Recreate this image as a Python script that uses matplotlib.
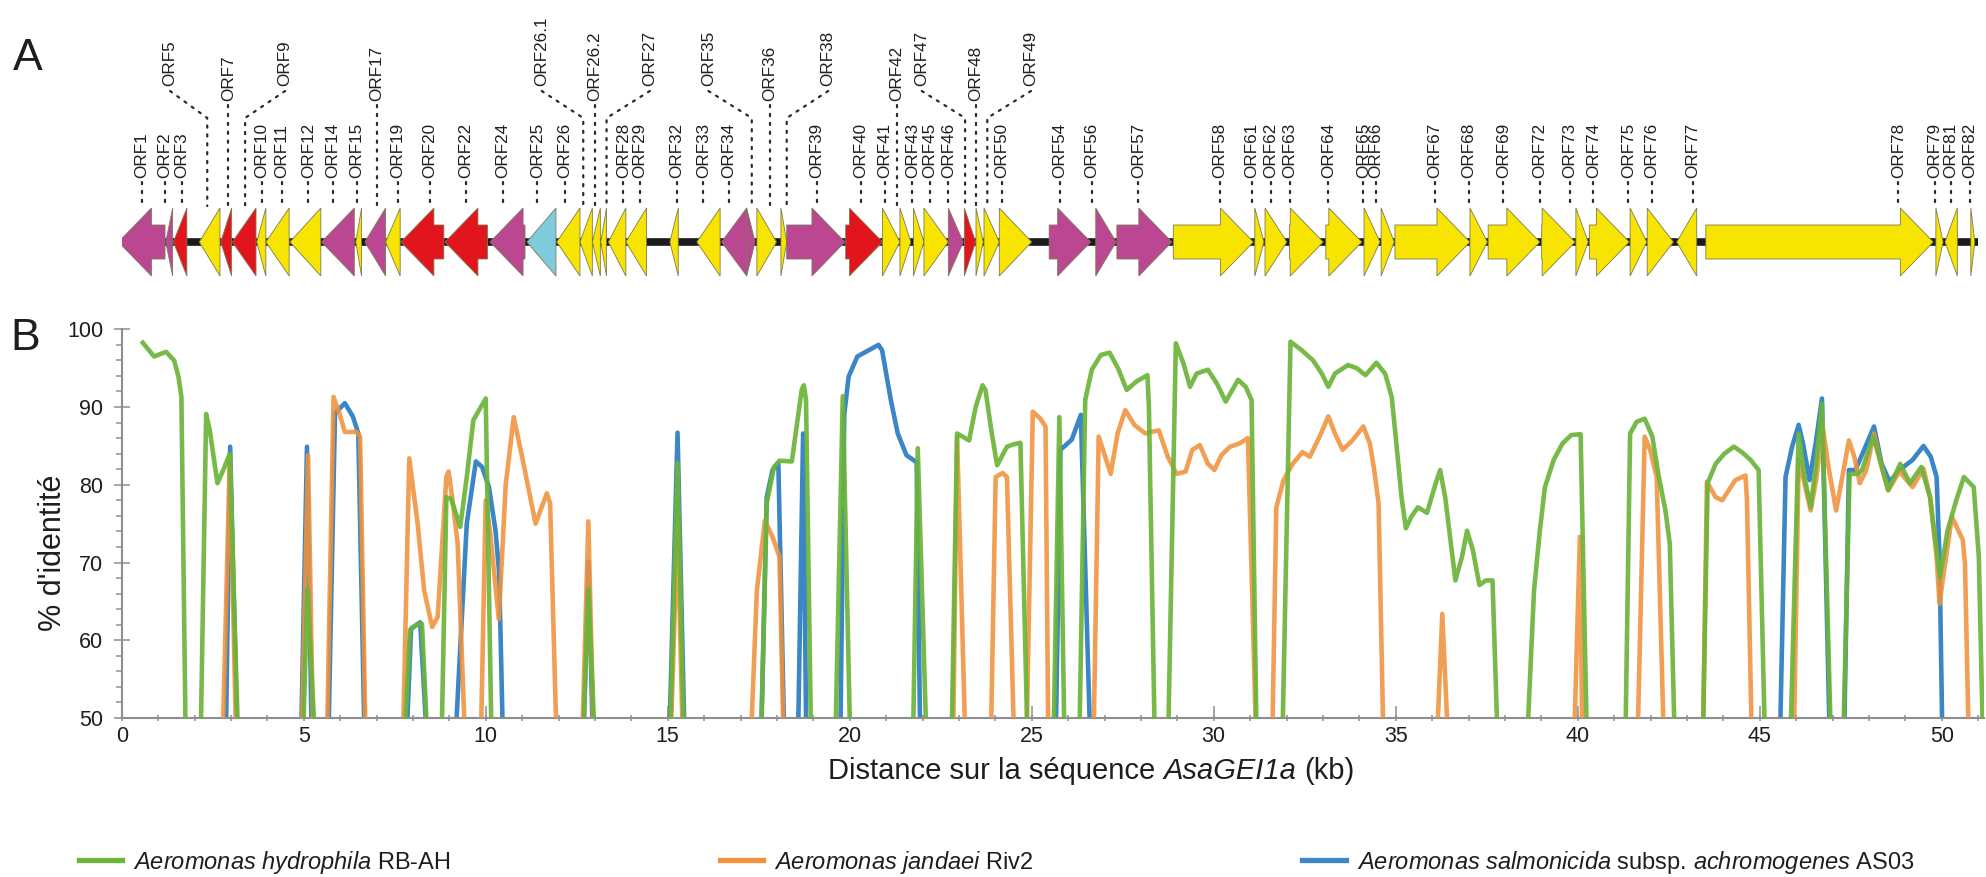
import numpy as np
import matplotlib
matplotlib.use("Agg")
import matplotlib.pyplot as plt
from matplotlib.patches import Polygon
from matplotlib.lines import Line2D

plt.rcParams['font.family'] = ['Liberation Sans', 'DejaVu Sans']
plt.rcParams['mathtext.fontset'] = 'custom'
plt.rcParams['mathtext.rm'] = 'Liberation Sans'
plt.rcParams['mathtext.it'] = 'Liberation Sans:italic'

# ---------------- DATA ----------------
# Gene map (kb): start, end, strand, colour class
gene_names = ["ORF1", "ORF2", "ORF3", "ORF5", "ORF7", "ORF9", "ORF10", "ORF11", "ORF12", "ORF14",
              "ORF15", "ORF17", "ORF19", "ORF20", "ORF22", "ORF24", "ORF25", "ORF26", "ORF26.1", "ORF26.2",
              "ORF27", "ORF28", "ORF29", "ORF32", "ORF33", "ORF34", "ORF35", "ORF36", "ORF38", "ORF39",
              "ORF40", "ORF41", "ORF42", "ORF43", "ORF45", "ORF46", "ORF47", "ORF48", "ORF49", "ORF50",
              "ORF54", "ORF56", "ORF57", "ORF58", "ORF61", "ORF62", "ORF63", "ORF64", "ORF65", "ORF66",
              "ORF67", "ORF68", "ORF69", "ORF72", "ORF73", "ORF74", "ORF75", "ORF76", "ORF77", "ORF78",
              "ORF79", "ORF81", "ORF82"]
gene_start = [-0.09, 1.21, 1.42, 2.13, 2.72, 3.04, 3.71, 3.96, 4.62, 5.49,
              6.43, 6.68, 7.25, 7.67, 8.88, 10.12, 11.13, 11.95, 12.59, 12.93,
              13.16, 13.37, 13.85, 15.06, 15.80, 16.48, 17.17, 17.45, 18.11, 18.27,
              19.89, 20.90, 21.38, 21.75, 22.04, 22.71, 23.15, 23.47, 23.69, 24.11,
              25.48, 26.76, 27.34, 28.89, 31.13, 31.41, 32.08, 33.08, 34.13, 34.60,
              34.98, 37.04, 37.54, 39.01, 39.95, 40.32, 41.44, 41.91, 42.72, 43.52,
              49.84, 50.09, 50.80]
gene_end = [1.19, 1.40, 1.79, 2.70, 3.02, 3.69, 3.96, 4.60, 5.47, 6.39,
            6.59, 7.25, 7.65, 8.85, 10.05, 11.08, 11.93, 12.59, 12.93, 13.15,
            13.32, 13.85, 14.42, 15.29, 16.44, 17.17, 17.40, 17.99, 18.27, 19.87,
            20.90, 21.38, 21.68, 22.04, 22.71, 23.12, 23.46, 23.67, 24.11, 25.00,
            26.62, 27.32, 28.85, 31.09, 31.38, 32.01, 33.01, 34.07, 34.57, 34.96,
            37.04, 37.52, 38.96, 39.93, 40.29, 41.42, 41.90, 42.63, 43.27, 49.77,
            50.04, 50.43, 50.91]
gene_strand = [-1] * 26 + [1] * 32 + [-1, 1, 1, -1, 1]
gene_class = ["m", "m", "r", "y", "r", "r", "y", "y", "y", "m",
              "y", "m", "y", "r", "r", "m", "c", "y", "y", "y",
              "y", "y", "y", "y", "y", "m", "m", "y", "y", "m",
              "r", "y", "y", "y", "y", "m", "r", "y", "y", "y",
              "m", "m", "m", "y", "y", "y", "y", "y", "y", "y",
              "y", "y", "y", "y", "y", "y", "y", "y", "y", "y",
              "y", "y", "y"]
backbone_kb = [-0.10, 51.0]

# Labels on the lower row (leader position, kb)
row1_names = ["ORF1", "ORF2", "ORF3", "ORF10", "ORF11", "ORF12", "ORF14", "ORF15", "ORF19", "ORF20",
              "ORF22", "ORF24", "ORF25", "ORF26", "ORF28", "ORF29", "ORF32", "ORF33", "ORF34", "ORF39",
              "ORF40", "ORF41", "ORF43", "ORF45", "ORF46", "ORF50", "ORF54", "ORF56", "ORF57", "ORF58",
              "ORF61", "ORF62", "ORF63", "ORF64", "ORF65", "ORF66", "ORF67", "ORF68", "ORF69", "ORF72",
              "ORF73", "ORF74", "ORF75", "ORF76", "ORF77", "ORF78", "ORF79", "ORF81", "ORF82"]
row1_pos = [0.55, 1.19, 1.65, 3.86, 4.40, 5.13, 5.81, 6.46, 7.58, 8.47,
            9.46, 10.48, 11.42, 12.18, 13.78, 14.24, 15.25, 15.98, 16.68, 19.09,
            20.31, 20.97, 21.72, 22.21, 22.71, 24.18, 25.78, 26.66, 27.93, 30.17,
            31.04, 31.57, 32.10, 33.15, 34.11, 34.46, 36.08, 37.02, 37.96, 38.96,
            39.79, 40.43, 41.39, 42.03, 43.16, 48.81, 49.82, 50.25, 50.78]
# Labels on the upper row: leader position and text position (kb)
row2_names = ["ORF5", "ORF7", "ORF9", "ORF17", "ORF26.1", "ORF26.2", "ORF27", "ORF35", "ORF36", "ORF38",
              "ORF42", "ORF47", "ORF48", "ORF49"]
row2_pos = [2.35, 2.93, 3.39, 7.01, 12.68, 13.00, 13.32, 17.31, 17.81, 18.27,
            21.29, 23.17, 23.47, 23.78]
row2_text = [1.33, 2.93, 4.49, 7.01, 11.54, 13.00, 14.51, 16.12, 17.81, 19.41,
             21.29, 21.98, 23.47, 24.98]

# Identity curves: segments of (kb, % identity)
green_segments = [
    [(0.54, 98.5), (0.89, 96.5), (1.22, 97.1), (1.44, 96.0), (1.56, 93.9), (1.64, 91.3), (1.75, 50)],
    [(2.18, 50), (2.32, 89.1), (2.42, 87.0), (2.63, 80.2), (2.79, 81.9), (2.97, 84.0), (3.18, 50)],
    [(5.0, 50), (5.1, 66.5), (5.28, 50)],
    [(7.8, 50), (7.92, 61.3), (8.13, 62.1), (8.25, 62.1), (8.37, 50)],
    [(8.8, 50), (8.92, 78.4), (9.05, 78.2), (9.3, 74.6), (9.48, 81.0), (9.66, 88.3), (10.0, 91.1), (10.15, 50)],
    [(12.7, 50), (12.82, 66.6), (12.97, 50)],
    [(15.08, 50), (15.27, 82.8), (15.43, 50)],
    [(17.58, 50), (17.72, 77.6), (17.92, 82.3), (18.07, 83.1), (18.41, 83.0), (18.68, 92.2), (18.74, 92.8),
     (18.8, 90.9), (18.93, 50)],
    [(19.62, 50), (19.81, 91.4), (20.0, 50)],
    [(21.75, 50), (21.87, 84.7), (22.09, 50)],
    [(22.81, 50), (22.95, 86.6), (23.1, 86.2), (23.28, 85.7), (23.46, 90.0), (23.65, 92.8), (23.73, 92.2),
     (23.89, 87.0), (24.05, 82.5), (24.32, 84.9), (24.5, 85.2), (24.69, 85.4), (24.87, 50)],
    [(25.61, 50), (25.76, 88.7), (25.89, 50)],
    [(26.32, 50), (26.47, 90.9), (26.65, 94.8), (26.9, 96.7), (27.14, 97.0), (27.39, 94.8), (27.61, 92.2),
     (27.88, 93.3), (28.18, 94.1), (28.22, 90.0), (28.37, 50)],
    [(28.76, 50), (28.96, 98.2), (29.17, 95.6), (29.35, 92.6), (29.53, 94.3), (29.84, 94.8), (30.09, 93.0),
     (30.33, 90.7), (30.67, 93.5), (30.88, 92.6), (31.04, 90.9), (31.17, 50)],
    [(31.9, 50), (32.11, 98.4), (32.42, 97.3), (32.73, 96.0), (32.97, 94.3), (33.15, 92.6), (33.33, 94.3),
     (33.69, 95.4), (33.93, 95.0), (34.17, 94.1), (34.47, 95.7), (34.71, 94.3), (34.89, 91.3), (35.01, 85.7),
     (35.16, 78.4), (35.28, 74.4), (35.43, 75.9), (35.61, 77.1), (35.86, 76.4), (36.1, 80.2), (36.22, 81.9),
     (36.36, 78.4), (36.64, 67.7), (36.82, 70.7), (36.96, 74.1), (37.12, 71.6), (37.3, 67.1), (37.48, 67.7),
     (37.66, 67.7), (37.78, 50)],
    [(38.64, 50), (38.8, 66.4), (38.96, 74.1), (39.1, 79.7), (39.34, 83.2), (39.58, 85.3), (39.82, 86.4),
     (40.08, 86.5), (40.24, 50)],
    [(41.32, 50), (41.44, 86.6), (41.62, 88.1), (41.84, 88.5), (42.05, 86.2), (42.23, 81.0), (42.41, 76.7),
     (42.53, 72.4), (42.65, 50)],
    [(43.45, 50), (43.57, 80.2), (43.79, 82.7), (44.03, 84.0), (44.29, 84.9), (44.51, 84.2), (44.75, 83.2),
     (44.97, 81.9), (45.13, 50)],
    [(45.86, 50), (46.07, 86.6), (46.23, 81.0), (46.4, 77.1), (46.55, 82.7), (46.71, 90.4), (46.94, 50)],
    [(47.31, 50), (47.47, 81.4), (47.7, 81.4), (47.81, 81.9), (48.12, 86.2), (48.33, 82.7), (48.53, 79.3),
     (48.86, 82.7), (49.13, 80.2), (49.44, 82.3), (49.68, 78.4), (49.86, 71.6), (49.95, 68.1), (50.16, 74.1),
     (50.4, 78.0), (50.61, 81.0), (50.88, 79.7), (51.02, 70.7), (51.12, 50)],
]
orange_segments = [
    [(2.79, 50), (2.97, 83.6), (3.13, 50)],
    [(4.96, 50), (5.12, 83.8), (5.25, 50)],
    [(5.65, 50), (5.82, 91.3), (5.98, 89.2), (6.13, 86.8), (6.45, 86.8), (6.55, 86.2), (6.69, 50)],
    [(7.74, 50), (7.9, 83.4), (8.13, 75.0), (8.31, 66.4), (8.53, 61.7), (8.68, 63.0), (8.92, 81.0), (8.98, 81.7),
     (9.1, 77.6), (9.23, 72.4), (9.41, 50)],
    [(9.88, 50), (10.0, 78.0), (10.12, 74.0), (10.36, 62.7), (10.55, 80.0), (10.77, 88.7), (11.0, 83.6),
     (11.37, 75.0), (11.68, 78.9), (11.77, 77.6), (11.93, 50)],
    [(12.67, 50), (12.82, 75.3), (12.95, 50)],
    [(15.1, 50), (15.27, 75.0), (15.4, 50)],
    [(17.31, 50), (17.45, 66.4), (17.67, 75.4), (17.88, 73.3), (18.07, 70.7), (18.17, 50)],
    [(22.85, 50), (22.95, 86.2), (23.16, 50)],
    [(23.89, 50), (24.01, 81.0), (24.2, 81.5), (24.32, 81.0), (24.5, 50)],
    [(24.87, 50), (25.03, 89.4), (25.24, 88.5), (25.38, 87.5), (25.45, 50)],
    [(26.71, 50), (26.84, 86.2), (27.02, 83.6), (27.17, 81.4), (27.36, 86.6), (27.57, 89.6), (27.82, 87.7),
     (28.12, 86.6), (28.49, 87.0), (28.74, 83.6), (28.98, 81.4), (29.23, 81.7), (29.41, 84.5), (29.62, 85.1),
     (29.84, 82.7), (30.02, 81.9), (30.21, 83.8), (30.45, 84.9), (30.7, 85.3), (30.94, 86.0), (31.15, 50)],
    [(31.62, 50), (31.72, 77.1), (31.92, 80.6), (32.17, 82.7), (32.44, 84.2), (32.64, 83.6), (32.91, 86.2),
     (33.15, 88.8), (33.33, 86.6), (33.54, 84.5), (33.81, 85.7), (34.11, 87.5), (34.29, 85.3), (34.41, 81.9),
     (34.53, 77.6), (34.65, 50)],
    [(36.16, 50), (36.28, 63.4), (36.41, 50)],
    [(39.92, 50), (40.06, 73.3), (40.12, 50)],
    [(41.66, 50), (41.84, 86.2), (41.99, 84.5), (42.17, 81.0), (42.35, 50)],
    [(43.45, 50), (43.55, 80.4), (43.79, 78.4), (43.97, 78.0), (44.15, 79.3), (44.33, 80.6), (44.61, 81.2),
     (44.65, 78.0), (44.77, 50)],
    [(45.95, 50), (46.07, 83.2), (46.19, 81.0), (46.4, 76.7), (46.55, 80.6), (46.73, 87.5), (46.9, 82.0),
     (47.1, 76.7), (47.27, 81.0), (47.45, 85.7), (47.6, 83.6), (47.75, 80.2), (47.93, 81.9), (48.14, 86.6),
     (48.35, 82.3), (48.53, 79.3), (48.84, 81.7), (49.2, 79.7), (49.5, 82.1), (49.68, 78.4), (49.86, 70.7),
     (49.94, 64.7), (50.04, 68.1), (50.28, 75.9), (50.58, 72.9), (50.64, 69.8), (50.73, 50)],
]
blue_segments = [
    [(2.87, 50), (2.98, 84.9), (3.16, 50)],
    [(4.94, 50), (5.09, 84.9), (5.21, 50)],
    [(5.69, 50), (5.86, 89.2), (6.13, 90.5), (6.35, 88.8), (6.5, 86.6), (6.66, 50)],
    [(7.85, 50), (7.95, 61.5), (8.2, 62.3), (8.35, 50)],
    [(9.2, 50), (9.48, 75.0), (9.73, 83.0), (9.9, 82.3), (10.09, 79.7), (10.27, 74.1), (10.37, 68.6), (10.46, 50)],
    [(12.7, 50), (12.82, 70.1), (12.93, 50)],
    [(15.06, 50), (15.27, 86.7), (15.45, 50)],
    [(17.58, 50), (17.72, 78.4), (17.88, 81.9), (18.04, 82.7), (18.19, 50)],
    [(18.59, 50), (18.72, 86.6), (18.8, 50)],
    [(19.75, 50), (19.85, 89.0), (19.97, 93.9), (20.21, 96.5), (20.52, 97.3), (20.79, 98.0), (20.89, 97.3),
     (21.13, 90.9), (21.32, 86.6), (21.56, 83.8), (21.84, 82.9), (21.93, 50)],
    [(25.67, 50), (25.79, 84.5), (26.1, 85.8), (26.35, 89.0), (26.59, 50)],
    [(45.57, 50), (45.71, 81.0), (45.89, 84.9), (46.07, 87.7), (46.19, 85.3), (46.37, 80.6), (46.55, 85.7),
     (46.71, 91.1), (46.91, 50)],
    [(47.33, 50), (47.45, 81.9), (47.63, 81.9), (47.87, 84.5), (48.14, 87.5), (48.35, 82.7), (48.57, 80.4),
     (48.84, 81.9), (49.2, 83.2), (49.5, 85.0), (49.7, 83.6), (49.86, 81.0), (49.94, 70.7), (50.01, 50)],
]
series_labels = [r"$\mathit{Aeromonas\ hydrophila}$ RB-AH",
                 r"$\mathit{Aeromonas\ jandaei}$ Riv2",
                 r"$\mathit{Aeromonas\ salmonicida}$ subsp. $\mathit{achromogenes}$ AS03"]
xlabel_parts = [("Distance sur la séquence", "normal"), ("AsaGEI1a", "italic"), ("(kb)", "normal")]
x_major = [0, 5, 10, 15, 20, 25, 30, 35, 40, 45, 50]
y_major = [50, 60, 70, 80, 90, 100]

# ---------------- STYLE / LAYOUT ----------------
GREEN, ORANGE, BLUE = "#6cb43a", "#f0923c", "#3a86c6"
GENE_COL = {"m": "#bb4793", "r": "#e2141c", "y": "#f7e400", "c": "#7ecbdc"}
AXC = "#8e8e8e"
TXT = "#1e1e1e"
W, H = 1986, 877
X0, PXKB, XMAX = 121.7, 36.4, 51.15
Y100, Y50 = 329.3, 718.0


def fx(px):
    return px / W


def fy(py):
    return 1 - py / H


fig = plt.figure(figsize=(W / 100, H / 100), dpi=100)
ax_w = XMAX * PXKB / W
ax = fig.add_axes([fx(X0), fy(Y50), ax_w, (Y50 - Y100) / H])
mp = fig.add_axes([fx(X0), fy(300), ax_w, 300 / H])
mp.set_xlim(0, XMAX)
mp.set_ylim(300, 0)
mp.axis("off")

# ---- gene map ----
YC, HH, BH, HEAD = 242, 34, 17, 0.907
mp.plot(backbone_kb, [YC, YC], color="#1b1b1b", lw=5.5, solid_capstyle="butt", zorder=2)
for s, e, st, c in zip(gene_start, gene_end, gene_strand, gene_class):
    L = e - s
    h = min(HEAD, L)
    if st > 0:
        tip, base, tail = e, e - h, s
    else:
        tip, base, tail = s, s + h, e
    if h >= L - 1e-9:
        pts = [(tail, YC - HH), (tip, YC), (tail, YC + HH)]
    else:
        pts = [(tail, YC - BH), (base, YC - BH), (base, YC - HH), (tip, YC),
               (base, YC + HH), (base, YC + BH), (tail, YC + BH)]
    mp.add_patch(Polygon(pts, closed=True, fc=GENE_COL[c], ec="#7d7a55", lw=0.6, zorder=3))

DOT = dict(color="#2a2a2a", lw=1.6, ls=(0, (1, 3)), dash_capstyle="round", zorder=1)
for name, x in zip(row1_names, row1_pos):
    mp.text(x, 178, name, rotation=90, ha="center", va="bottom", fontsize=12.3, color=TXT)
    mp.plot([x, x], [182, 206], **DOT)
for name, x, tx in zip(row2_names, row2_pos, row2_text):
    if abs(tx - x) < 1e-6:
        mp.text(x, 101, name, rotation=90, ha="center", va="bottom", fontsize=12.3, color=TXT)
        mp.plot([x, x], [105, 206], **DOT)
    else:
        mp.text(tx, 86, name, rotation=90, ha="center", va="bottom", fontsize=12.3, color=TXT)
        mp.plot([tx, x, x], [91, 118, 206], **DOT)

# ---- identity curves ----
def draw(segs, color, alpha, z):
    for seg in segs:
        xs = [p[0] for p in seg]
        ys = [p[1] for p in seg]
        ax.plot(xs, ys, color=color, lw=3.3, alpha=alpha, zorder=z,
                solid_joinstyle="round", solid_capstyle="butt")

draw(blue_segments, BLUE, 1.0, 2)
draw(orange_segments, ORANGE, 0.88, 3)
draw(green_segments, GREEN, 0.92, 4)

ax.set_xlim(0, XMAX)
ax.set_ylim(50, 100)
for sp in ("top", "right"):
    ax.spines[sp].set_visible(False)
for sp in ("left", "bottom"):
    ax.spines[sp].set_color(AXC)
    ax.spines[sp].set_linewidth(1.5)
ax.set_xticks(x_major)
ax.set_xticks(np.arange(0, 52, 1), minor=True)
ax.xaxis.remove_overlapping_locs = False
ax.set_yticks(y_major)
ax.set_yticks(np.arange(50, 101, 2), minor=True)
ax.tick_params(axis="x", which="major", direction="in", length=8.5, width=1.1, color=AXC,
               labelsize=15.5, labelcolor=TXT, pad=6)
ax.tick_params(axis="x", which="minor", direction="inout", length=5, width=1.1, color=AXC)
ax.tick_params(axis="y", which="major", direction="inout", length=11.5, width=1.1, color=AXC,
               labelsize=15.5, labelcolor=TXT, pad=7.5)
ax.tick_params(axis="y", which="minor", direction="out", length=4.5, width=1.1, color=AXC)
ax.set_facecolor("none")

fig.text(fx(53), fy(553), "% d'identité", rotation=90, fontsize=22, ha="center", va="center", color=TXT)

# x label made of pieces so the whole name is italic
renderer = fig.canvas.get_renderer()
XL_FS = 21
space_px = 0.278 * XL_FS * 100 / 72
pieces = [fig.text(0, fy(771), t, fontsize=XL_FS, fontstyle=st, ha="left", va="center", color=TXT)
          for t, st in xlabel_parts]
widths = [p.get_window_extent(renderer).width for p in pieces]
total = sum(widths) + space_px * (len(pieces) - 1)
cur = 1091 - total / 2
for p, wdt in zip(pieces, widths):
    p.set_x(fx(cur))
    cur += wdt + space_px

fig.text(fx(28), fy(58.6), "A", fontsize=32, ha="center", va="center", color=TXT)
fig.text(fx(25), fy(338), "B", fontsize=32, ha="center", va="center", color=TXT)

handles = [Line2D([], [], color=GREEN, lw=3.8), Line2D([], [], color=ORANGE, lw=3.8),
           Line2D([], [], color=BLUE, lw=3.8)]
fig.legend(handles, series_labels, loc="center left", bbox_to_anchor=(fx(78.5), fy(862)), ncol=3,
           frameon=False, fontsize=17, handlelength=1.85, handletextpad=0.45, columnspacing=11.4,
           borderpad=0, borderaxespad=0, labelcolor=TXT)

fig.savefig("out.png", dpi=100)
